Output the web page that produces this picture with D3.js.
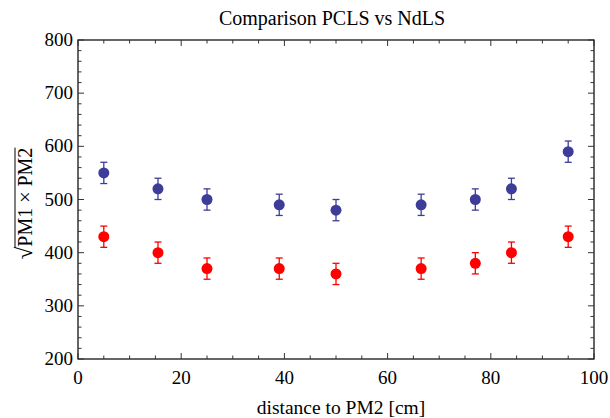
<!DOCTYPE html>
<html>
<head>
<meta charset="utf-8">
<script src="https://cdn.jsdelivr.net/npm/d3@7"></script>
<style>
  body { margin: 0; background: #fff; }
</style>
</head>
<body>
<svg id="chart" width="610" height="418"></svg>
<script>
// distances [cm] of the measurement points
var distances = [5, 15.5, 25, 39, 50, 66.5, 77, 84, 95];
// NdLS (blue) and PCLS (red) values
var blueValues = [550, 520, 500, 490, 480, 490, 500, 520, 590];
var redValues = [430, 400, 370, 370, 360, 370, 380, 400, 430];
var errorSize = 20;
var xTicks = [0, 20, 40, 60, 80, 100];
var yTicks = [200, 300, 400, 500, 600, 700, 800];

var svg = d3.select('#chart');
var pLeft = 78, pRight = 594, pTop = 40, pBottom = 359;

// every text gets the Times-like font
function txt(sel) {
    return sel.append('text').style('font-family', "'Liberation Serif'").attr('fill', '#000');
}

var xScale = d3.scaleLinear().domain([0, 100]).range([pLeft, pRight]);
var yScale = d3.scaleLinear().domain([200, 800]).range([pBottom, pTop]);

// frame
svg.append('rect')
    .attr('x', pLeft).attr('y', pTop)
    .attr('width', pRight - pLeft).attr('height', pBottom - pTop)
    .attr('fill', 'none').attr('stroke', '#000').attr('stroke-width', 1.2);

var xMinor = d3.range(0, 101, 5);
var yMinor = d3.range(200, 801, 20);

function tickLen(isMajor) { return isMajor ? 6 : 3.5; }

// x ticks, bottom and top, pointing inward
xMinor.forEach(function(v) {
    var len = tickLen(v % 20 === 0);
    svg.append('line').attr('x1', xScale(v)).attr('x2', xScale(v))
        .attr('y1', pBottom).attr('y2', pBottom - len)
        .attr('stroke', '#333').attr('stroke-width', 1);
    svg.append('line').attr('x1', xScale(v)).attr('x2', xScale(v))
        .attr('y1', pTop).attr('y2', pTop + len)
        .attr('stroke', '#333').attr('stroke-width', 1);
});
// y ticks, left and right
yMinor.forEach(function(v) {
    var len = tickLen(v % 100 === 0);
    svg.append('line').attr('y1', yScale(v)).attr('y2', yScale(v))
        .attr('x1', pLeft).attr('x2', pLeft + len)
        .attr('stroke', '#333').attr('stroke-width', 1);
    svg.append('line').attr('y1', yScale(v)).attr('y2', yScale(v))
        .attr('x1', pRight).attr('x2', pRight - len)
        .attr('stroke', '#333').attr('stroke-width', 1);
});

// tick labels
xTicks.forEach(function(d) {
    txt(svg).attr('x', xScale(d)).attr('y', pBottom + 25)
        .attr('text-anchor', 'middle').attr('font-size', 19)
        .text(d);
});
yTicks.forEach(function(d) {
    txt(svg).attr('x', pLeft - 5).attr('y', yScale(d) + 6)
        .attr('text-anchor', 'end').attr('font-size', 19)
        .text(d);
});

// title and axis labels
txt(svg).attr('x', 332).attr('y', 25)
    .attr('text-anchor', 'middle').attr('font-size', 20)
    .text('Comparison PCLS vs NdLS');

txt(svg).attr('x', 341).attr('y', 414)
    .attr('text-anchor', 'middle').attr('font-size', 19.5)
    .text('distance to PM2 [cm]');

var ylabel = svg.append('g').attr('transform', 'translate(32,' + ((pTop + pBottom) / 2 + 4) + ') rotate(-90)');
var ytext = txt(ylabel).attr('text-anchor', 'middle').attr('font-size', 20);
ytext.append('tspan').attr('font-size', 23).text('\u221A');
var under = ytext.append('tspan').text('PM1 \u00D7 PM2');
var box = under.node().getBBox();
ylabel.append('line')
    .attr('x1', box.x - 1).attr('x2', box.x + box.width)
    .attr('y1', box.y + 1).attr('y2', box.y + 1)
    .attr('stroke', '#000').attr('stroke-width', 1);

// data series with error bars
function drawSeries(values, color) {
    var g = svg.append('g');
    var pts = distances.map(function(d, i) { return [d, values[i]]; });
    pts.forEach(function(p) {
        var x = xScale(p[0]);
        var y0 = yScale(p[1] - errorSize), y1 = yScale(p[1] + errorSize);
        g.append('line').attr('x1', x).attr('x2', x).attr('y1', y0).attr('y2', y1)
            .attr('stroke', color).attr('stroke-width', 1.3);
        g.append('line').attr('x1', x - 3.5).attr('x2', x + 3.5).attr('y1', y0).attr('y2', y0)
            .attr('stroke', color).attr('stroke-width', 1.3);
        g.append('line').attr('x1', x - 3.5).attr('x2', x + 3.5).attr('y1', y1).attr('y2', y1)
            .attr('stroke', color).attr('stroke-width', 1.3);
    });
    g.selectAll('circle').data(pts).enter().append('circle')
        .attr('cx', function(d) { return xScale(d[0]); })
        .attr('cy', function(d) { return yScale(d[1]); })
        .attr('r', 5.5)
        .attr('fill', color);
}

drawSeries(blueValues, '#3d3d99');
drawSeries(redValues, '#ff0000');
</script>
</body>
</html>
